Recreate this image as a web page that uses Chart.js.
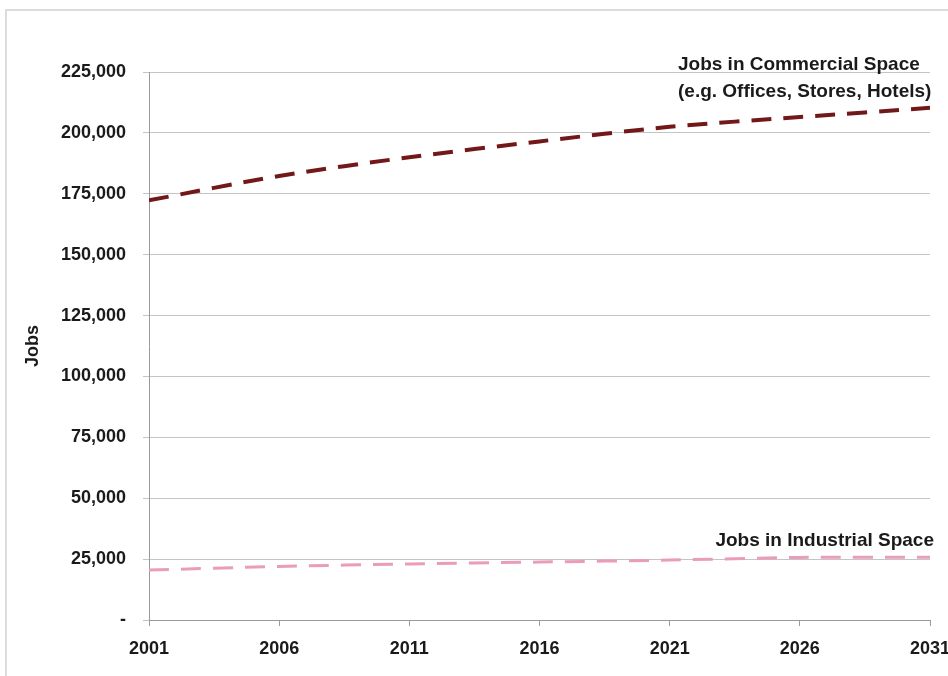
<!DOCTYPE html>
<html>
<head>
<meta charset="utf-8">
<script src="https://cdn.jsdelivr.net/npm/chart.js@4"></script>
<style>
    html, body { margin: 0; padding: 0; background: #fff; }
    #frame {
        position: absolute; left: 5px; top: 9px; width: 960px; height: 700px;
        border: 2px solid #dcdcdc; box-sizing: border-box;
    }
    #wrap { position: absolute; left: 0; top: 0; width: 948px; height: 676px; }
</style>
</head>
<body>
<div id="frame"></div>
<div id="wrap"><canvas id="jobsChart" width="948" height="676"></canvas></div>
<script>
// Years shown on the x axis (5-year steps)
const years = [2001, 2006, 2011, 2016, 2021, 2026, 2031];

// Jobs in commercial space (offices, stores, hotels)
const commercialJobs = [172300, 182300, 190000, 196500, 202500, 206500, 210300];

// Jobs in industrial space
const industrialJobs = [20500, 22000, 23000, 23800, 24600, 25700, 25800];

const commercialLabel = ['Jobs in Commercial Space', '(e.g. Offices, Stores, Hotels)'];
const industrialLabel = 'Jobs in Industrial Space';

const FONT = '"Liberation Sans", Arial, sans-serif';

function toPoints(values) {
    return years.map((yr, i) => ({ x: yr, y: values[i] }));
}

// Draws the two series labels inside the plot
const seriesLabels = {
    id: 'seriesLabels',
    afterDatasetsDraw(chart) {
        const { ctx, chartArea } = chart;
        ctx.save();
        ctx.fillStyle = '#1a1a1a';
        ctx.font = 'bold 19px ' + FONT;
        ctx.textBaseline = 'middle';
        ctx.textAlign = 'left';
        ctx.fillText(commercialLabel[0], chartArea.right - 252, chartArea.top - 7);
        ctx.fillText(commercialLabel[1], chartArea.right - 252, chartArea.top + 20);
        ctx.textAlign = 'right';
        ctx.fillText(industrialLabel, chartArea.right + 4, chartArea.bottom - 79);
        ctx.restore();
    }
};

new Chart(document.getElementById('jobsChart'), {
    type: 'line',
    data: {
        datasets: [
            {
                label: 'Commercial',
                data: toPoints(commercialJobs),
                borderColor: '#731818',
                borderWidth: 4,
                borderDash: [20, 12],
                pointRadius: 0,
                tension: 0.3,
                fill: false
            },
            {
                label: 'Industrial',
                data: toPoints(industrialJobs),
                borderColor: '#eb9cbd',
                borderWidth: 3,
                borderDash: [20, 12],
                pointRadius: 0,
                tension: 0.3,
                fill: false
            }
        ]
    },
    options: {
        responsive: false,
        animation: false,
        devicePixelRatio: 1,
        layout: { padding: { top: 72, right: 18, left: 0, bottom: 0 } },
        plugins: {
            legend: { display: false },
            tooltip: { enabled: false }
        },
        scales: {
            x: {
                type: 'linear',
                min: 2001,
                max: 2031,
                afterFit(scale) {
                    scale.height = 56;
                    scale.paddingLeft = 0;
                    scale.paddingRight = 0;
                },
                afterBuildTicks(scale) { scale.ticks = years.map(v => ({ value: v })); },
                grid: { drawOnChartArea: false, drawTicks: true, tickLength: 6, color: '#9a9a9a' },
                border: { color: '#9a9a9a', width: 1 },
                ticks: {
                    color: '#1a1a1a',
                    font: { family: FONT, size: 18, weight: 'bold' },
                    padding: 12,
                    maxRotation: 0,
                    callback: v => String(v)
                }
            },
            y: {
                min: 0,
                max: 225000,
                afterFit(scale) { scale.width = 149; },
                grid: { color: '#c4c4c4', lineWidth: 1, tickLength: 6 },
                border: { color: '#9a9a9a', width: 1 },
                ticks: {
                    stepSize: 25000,
                    color: '#1a1a1a',
                    font: { family: FONT, size: 18, weight: 'bold' },
                    padding: 17,
                    callback: v => v === 0 ? '-' : v.toLocaleString('en-US')
                },
                title: {
                    display: true,
                    text: 'Jobs',
                    color: '#1a1a1a',
                    font: { family: FONT, size: 18, weight: 'bold' },
                    padding: { top: 22, bottom: 0 }
                }
            }
        }
    },
    plugins: [seriesLabels]
});
</script>
</body>
</html>
